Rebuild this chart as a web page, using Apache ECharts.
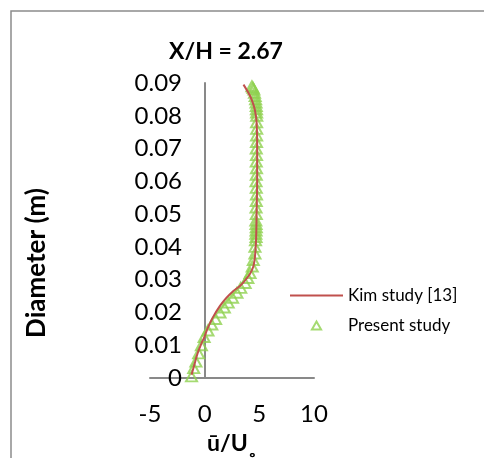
<!DOCTYPE html>
<html>
<head>
<meta charset="utf-8">
<script src="https://cdn.jsdelivr.net/npm/echarts@6/dist/echarts.min.js"></script>
<style>
  html, body { margin: 0; padding: 0; background: #fff; }
  #chart { width: 484px; height: 458px; }
</style>
</head>
<body>
<div id="chart"></div>
<script>
// Kim study [13]
const kimDiameter = [0.001, 0.004, 0.0075, 0.0105, 0.0127, 0.015, 0.0185, 0.022, 0.0245, 0.0265, 0.028, 0.0298,
  0.0318, 0.034, 0.037, 0.042, 0.05, 0.06, 0.07, 0.078, 0.0817, 0.0845, 0.087, 0.0895];
const kimVelocity = [-1.2, -0.95, -0.65, -0.3, 0.0, 0.25, 0.75, 1.4, 2.0, 2.6, 3.2, 3.7,
  4.15, 4.45, 4.6, 4.7, 4.75, 4.8, 4.8, 4.75, 4.6, 4.35, 4.0, 3.55];

// Present study - green triangles
const presentDiameter = [0.0005, 0.003, 0.005, 0.0075, 0.01, 0.0125, 0.0145, 0.0163, 0.018, 0.02, 0.0215, 0.023,
  0.0245, 0.026, 0.0275, 0.029, 0.0305, 0.032, 0.034, 0.036, 0.038, 0.04, 0.042, 0.043, 0.044, 0.045, 0.046,
  0.047, 0.048, 0.05, 0.052, 0.054, 0.056, 0.058, 0.06, 0.062, 0.064, 0.066, 0.068, 0.07, 0.072, 0.074, 0.076,
  0.078, 0.08, 0.081, 0.082, 0.083, 0.084, 0.085, 0.086, 0.087, 0.088, 0.0885, 0.089];
const presentVelocity = [-1.2, -1.0, -0.8, -0.55, -0.3, -0.05, 0.3, 0.65, 1.0, 1.4, 1.8, 2.15,
  2.55, 2.95, 3.3, 3.7, 3.95, 4.15, 4.35, 4.45, 4.6, 4.6, 4.65, 4.7, 4.68, 4.7, 4.72,
  4.7, 4.68, 4.72, 4.7, 4.72, 4.74, 4.72, 4.7, 4.72, 4.74, 4.72, 4.74, 4.72, 4.74, 4.75, 4.76,
  4.75, 4.76, 4.75, 4.74, 4.72, 4.7, 4.66, 4.62, 4.56, 4.5, 4.42, 4.32];

const xTicks = { min: -5, max: 10, step: 5 };
const yTicks = { min: 0, max: 0.09, step: 0.01 };

const font = "Lato";
const axisGray = "#898989";

const chart = echarts.init(document.getElementById("chart"), null, { renderer: "canvas" });

const option = {
  animation: false,
  backgroundColor: "#fff",
  textStyle: { fontFamily: font, color: "#000" },
  graphic: [
    {
      type: "rect",
      shape: { x: 11, y: 11, width: 600, height: 600 },
      style: { fill: "none", stroke: "#8c8c8c", lineWidth: 1.5 },
      silent: true
    },
    {
      // y axis title, kept as a graphic because the axis sits on x = 0
      type: "text",
      x: 37,
      y: 263,
      rotation: Math.PI / 2,
      style: {
        text: "Diameter (m)",
        fill: "#000",
        font: "bold 26px Lato",
        textAlign: "center",
        textVerticalAlign: "middle"
      },
      silent: true
    }
  ],
  title: {
    text: "X/H = 2.67",
    left: 221,
    top: 35,
    textAlign: "center",
    textStyle: { fontFamily: font, fontSize: 23, fontWeight: "bold", color: "#000" }
  },
  legend: {
    orient: "vertical",
    left: 285,
    top: 282,
    itemWidth: 53,
    itemHeight: 8,
    itemGap: 13,
    textStyle: { fontFamily: font, fontSize: 17, color: "#000" },
    data: [
      { name: "Kim study [13]", icon: "path://M0,0H53V2H0Z" },
      { name: "Present study", icon: "path://M4,0L8,7L0,7Z" }
    ]
  },
  grid: { left: 150, right: 170, top: 83, bottom: 80, containLabel: false, outerBoundsMode: "none" },
  xAxis: {
    type: "value",
    min: xTicks.min,
    max: xTicks.max,
    interval: xTicks.step,
    name: "ū/U˳",
    nameLocation: "middle",
    nameGap: 54,
    nameMoveOverlap: false,
    nameTextStyle: { fontFamily: font, fontSize: 23, fontWeight: "bold", color: "#000" },
    axisLine: { onZero: false, lineStyle: { color: axisGray, width: 2 } },
    axisTick: { show: false },
    splitLine: { show: false },
    axisLabel: { margin: 24, fontFamily: font, fontSize: 24, color: "#000" }
  },
  yAxis: {
    type: "value",
    min: yTicks.min,
    max: yTicks.max,
    interval: yTicks.step,
    axisLine: { onZero: true, lineStyle: { color: axisGray, width: 2 } },
    axisTick: { show: false },
    splitLine: { show: false },
    axisLabel: {
      // labels sit next to the x = 0 axis line, not at the grid edge
      margin: -32,
      fontFamily: font,
      fontSize: 24,
      color: "#000",
      formatter: v => (v === 0 ? "0" : v.toFixed(2))
    }
  },
  series: [
    {
      name: "Kim study [13]",
      type: "line",
      smooth: 0.3,
      symbol: "none",
      lineStyle: { color: "#C0504D", width: 2 },
      itemStyle: { color: "#C0504D" },
      data: kimDiameter.map((d, i) => [kimVelocity[i], d])
    },
    {
      name: "Present study",
      type: "scatter",
      symbol: "triangle",
      symbolSize: [11, 10],
      itemStyle: { color: "rgba(0,0,0,0)", borderColor: "#8FD14F", borderWidth: 2 },
      data: presentDiameter.map((d, i) => [presentVelocity[i], d])
    }
  ]
};

chart.setOption(option);
</script>
</body>
</html>
